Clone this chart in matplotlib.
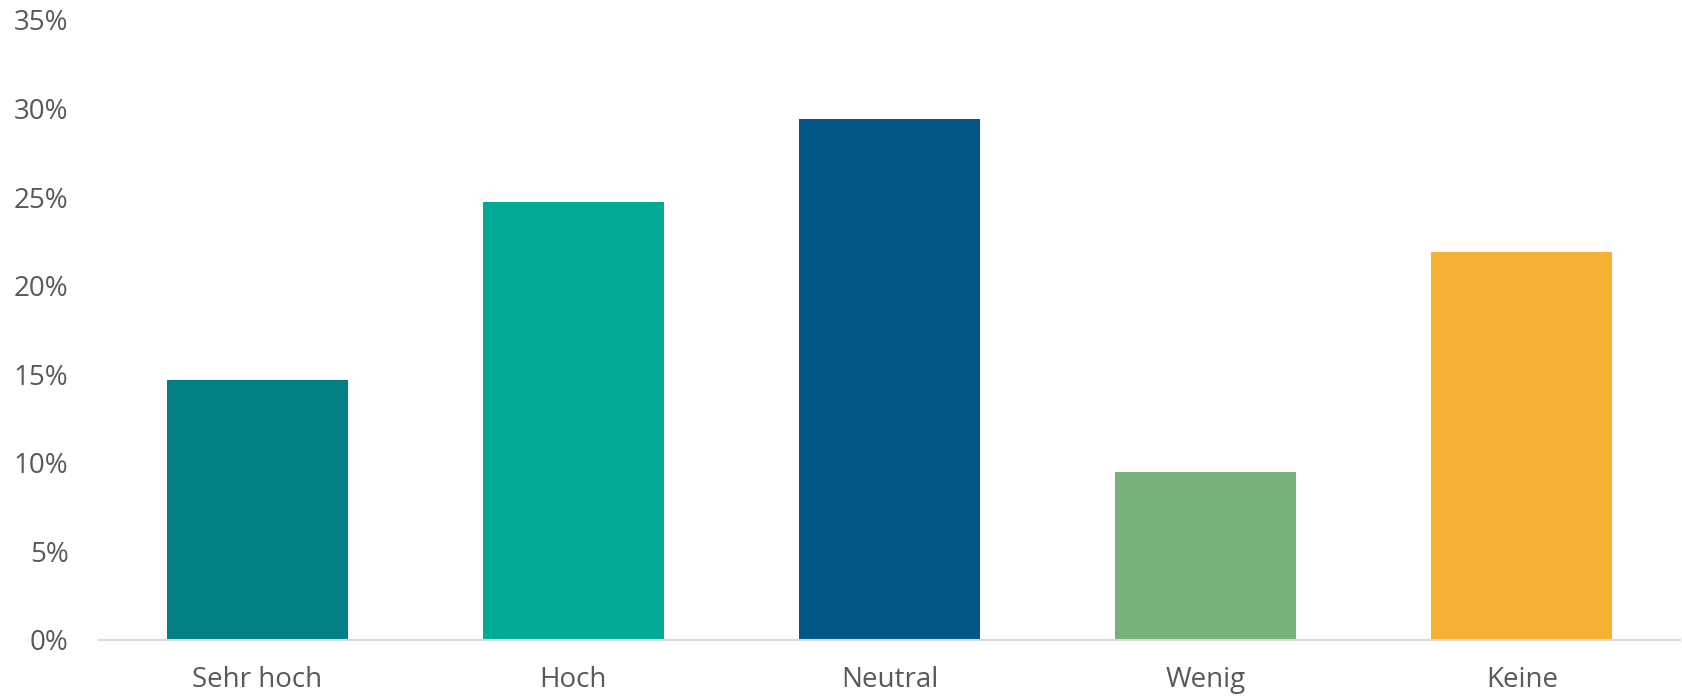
import matplotlib.pyplot as plt
from matplotlib.ticker import PercentFormatter

categories = ['Sehr hoch', 'Hoch', 'Neutral', 'Wenig', 'Keine']
values = [14.7, 24.7, 29.4, 9.5, 21.9]
colors = ['#028184', '#00AA96', '#005686', '#77B07B', '#F6B133']
yticks = [0, 5, 10, 15, 20, 25, 30, 35]

plt.rcParams['font.family'] = ['Open Sans', 'DejaVu Sans']

fig = plt.figure(figsize=(16.83, 6.96), dpi=100)
ax = fig.add_axes([99 / 1683, 56 / 696, 1581 / 1683, 620 / 696])

x = range(len(categories))
ax.bar(x, values, width=0.572, color=colors)

ax.set_xlim(-0.5, len(categories) - 0.5)
ax.set_ylim(0, 35)
ax.set_yticks(yticks)
ax.yaxis.set_major_formatter(PercentFormatter(decimals=0))
ax.set_xticks(list(x))
ax.set_xticklabels(categories)

for s in ['top', 'right', 'left']:
    ax.spines[s].set_visible(False)
ax.spines['bottom'].set_color('#d9d9d9')
ax.spines['bottom'].set_linewidth(1.5)
ax.tick_params(axis='both', length=0, labelsize=20, colors='#595959')
ax.tick_params(axis='y', pad=22)
ax.tick_params(axis='x', pad=19)

fig.savefig('out.png', dpi=100)
